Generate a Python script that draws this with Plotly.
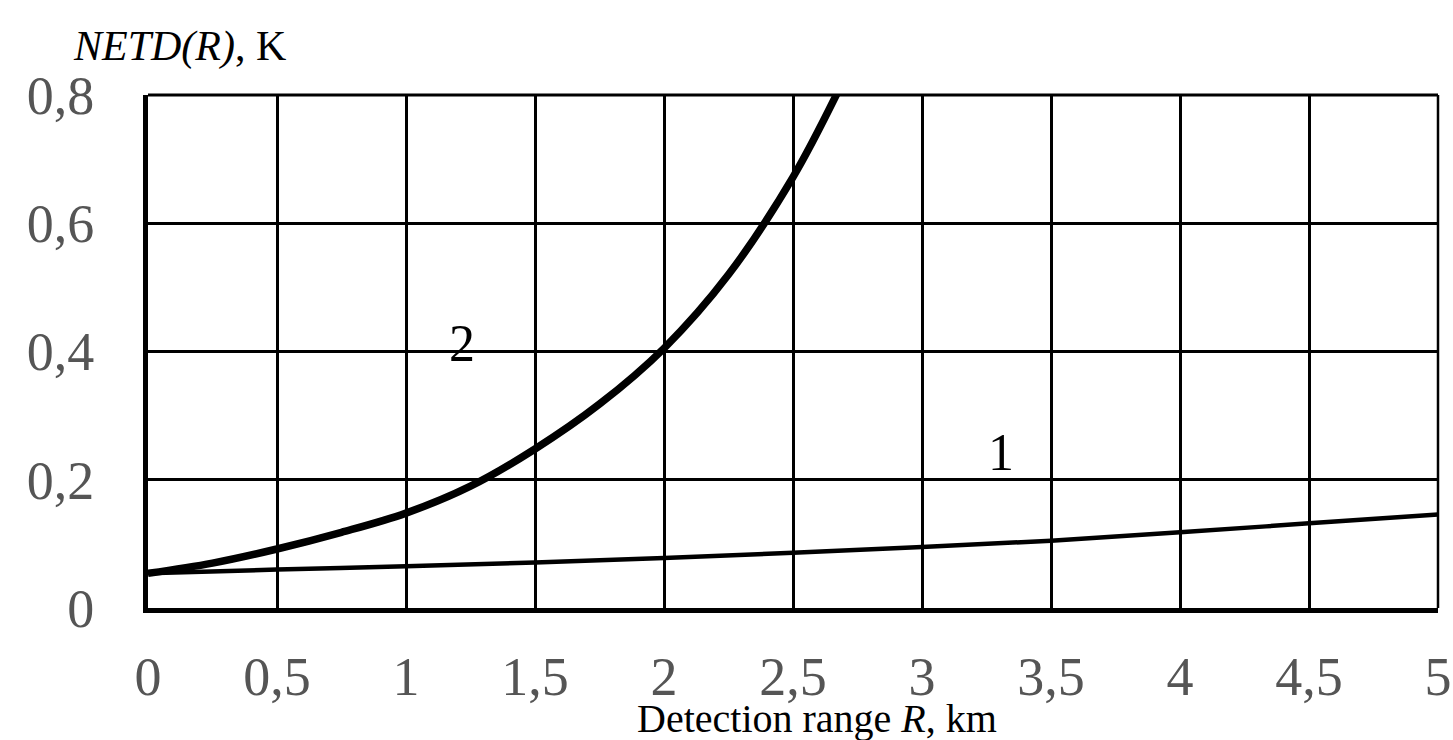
import plotly.graph_objects as go

# Curve 1
r1 = [0, 0.5, 1, 1.5, 2, 2.5, 3, 3.5, 4, 4.5, 5]
netd1 = [0.054, 0.060, 0.065, 0.071, 0.078, 0.086, 0.095, 0.105, 0.118, 0.132, 0.146]

# Curve 2
r2 = [0, 0.25, 0.5, 0.75, 1, 1.25, 1.5, 1.75, 2, 2.25, 2.5, 2.68]
netd2 = [0.054, 0.070, 0.092, 0.118, 0.148, 0.190, 0.248, 0.318, 0.405, 0.520, 0.672, 0.810]

xticks = [0, 0.5, 1, 1.5, 2, 2.5, 3, 3.5, 4, 4.5, 5]
xticklabels = ["0", "0,5", "1", "1,5", "2", "2,5", "3", "3,5", "4", "4,5", "5"]
yticks = [0, 0.2, 0.4, 0.6, 0.8]
yticklabels = ["0", "0,2", "0,4", "0,6", "0,8"]

FONT = "Liberation Serif"

fig = go.Figure()
fig.add_trace(go.Scatter(x=r1, y=netd1, mode="lines", line=dict(color="black", width=4.5, shape="spline"),
                         showlegend=False))
fig.add_trace(go.Scatter(x=r2, y=netd2, mode="lines", line=dict(color="black", width=7.5, shape="spline"),
                         showlegend=False))

fig.update_layout(
    width=1453, height=740,
    margin=dict(l=148, r=15, t=95, b=132, autoexpand=False),
    paper_bgcolor="white", plot_bgcolor="white",
    font=dict(family=FONT, color="black"),
    xaxis=dict(range=[0, 5], tickvals=xticks, ticktext=xticklabels, automargin=False,
               showgrid=True, gridcolor="black", gridwidth=2.5,
               showline=True, linecolor="black", linewidth=5,
               zeroline=False, ticks="", ticklabelstandoff=17,
               tickfont=dict(family=FONT, size=54, color="#555555")),
    yaxis=dict(range=[0, 0.8], tickvals=yticks, ticktext=yticklabels, automargin=False,
               showgrid=True, gridcolor="black", gridwidth=2.5,
               showline=True, linecolor="black", linewidth=5,
               zeroline=False, ticks="", ticklabelstandoff=38,
               tickfont=dict(family=FONT, size=54, color="#555555")),
    shapes=[
        dict(type="line", xref="paper", yref="paper", x0=0, x1=1, y0=1, y1=1,
             line=dict(color="black", width=3)),
        dict(type="line", xref="paper", yref="paper", x0=1, x1=1, y0=0, y1=1,
             line=dict(color="black", width=2.5)),
    ],
    annotations=[
        dict(text="<i>NETD(R)</i>, K", xref="paper", yref="paper", x=-0.0597, y=1.094,
             xanchor="left", yanchor="middle", showarrow=False,
             font=dict(family=FONT, size=42, color="black")),
        dict(text="Detection range <i>R</i>, km", xref="paper", yref="paper", x=0.5186, y=-0.216,
             xanchor="center", yanchor="middle", showarrow=False,
             font=dict(family=FONT, size=40, color="black")),
        dict(text="2", x=1.217, y=0.412, xref="x", yref="y", showarrow=False,
             font=dict(family=FONT, size=52, color="black")),
        dict(text="1", x=3.306, y=0.243, xref="x", yref="y", showarrow=False,
             font=dict(family=FONT, size=52, color="black")),
    ],
)

fig.write_html("out.html", config={"displayModeBar": False},
               post_script="document.body.style.margin='0';document.body.style.overflow='hidden';")
